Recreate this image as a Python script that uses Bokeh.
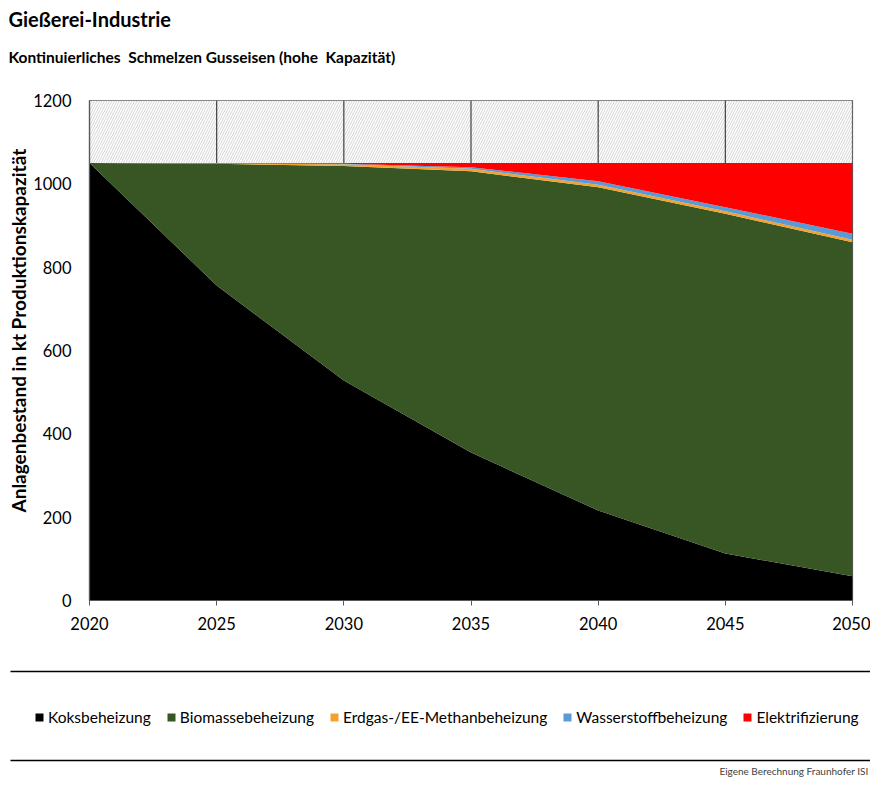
from bokeh.plotting import figure
from bokeh.models import Label, Legend, LegendItem, Range1d, FixedTicker, Title
from bokeh.layouts import column, row
from bokeh.embed import file_html
from bokeh.resources import INLINE

# ---- data ----
jahre = [2020, 2025, 2030, 2035, 2040, 2045, 2050]
koks = [1050, 756, 528, 355, 216, 113, 58]
biomasse = [0, 292, 515, 675, 776, 815, 802]
erdgas = [0, 1, 4, 6, 6, 6, 6]
wasserstoff = [0, 0, 1, 4, 8, 10, 14]
elektrifizierung = [0, 1, 2, 10, 44, 106, 170]
y_ticks = [0, 200, 400, 600, 800, 1000, 1200]
serien = ["Koksbeheizung", "Biomassebeheizung", "Erdgas-/EE-Methanbeheizung",
          "Wasserstoffbeheizung", "Elektrifizierung"]
farben = ["#000000", "#375623", "#f4a22c", "#5b9bd5", "#ff0000"]

FONT = "Lato"
W = 870
H_TOP, H_MAIN, H_BOT = 80, 570, 127

data = dict(jahr=jahre, s0=koks, s1=biomasse, s2=erdgas, s3=wasserstoff, s4=elektrifizierung)
stackers = ["s0", "s1", "s2", "s3", "s4"]
gesamt = [sum(v) for v in zip(koks, biomasse, erdgas, wasserstoff, elektrifizierung)]
y_max = y_ticks[-1]


def plain(h):
    f = figure(width=W, height=h, x_range=Range1d(0, W), y_range=Range1d(0, h),
               output_backend="svg", toolbar_location=None, min_border=0,
               x_axis_location=None, y_axis_location=None)
    f.min_border_left = f.min_border_right = f.min_border_top = f.min_border_bottom = 0
    f.outline_line_color = None
    f.grid.visible = False
    return f


# ---- title panel ----
pt = plain(H_TOP)
pt.add_layout(Label(x=8, y=H_TOP - 18, text="Gießerei-Industrie", text_font=FONT,
                    text_font_style="bold", text_font_size="20px", text_baseline="middle",
                    text_color="#000000"))
pt.add_layout(Label(x=8, y=H_TOP - 56,
                    text="Kontinuierliches\u00a0 Schmelzen Gusseisen (hohe\u00a0 Kapazität)",
                    text_font=FONT, text_font_style="bold", text_font_size="15.5px",
                    text_baseline="middle", text_color="#000000"))

# ---- main chart ----
p = figure(width=W, height=H_MAIN, x_range=Range1d(jahre[0], jahre[-1]), y_range=Range1d(0, y_max),
           output_backend="svg", toolbar_location=None,
           min_border_left=89, min_border_right=18, min_border_top=20, min_border_bottom=50)

p.quad(left=jahre[:-1], right=jahre[1:], bottom=gesamt[:-1], top=[y_max] * (len(jahre) - 1),
       fill_color="white", line_color=None, hatch_pattern="/", hatch_color="#d4d4d4",
       hatch_scale=5, hatch_weight=1)
p.segment(x0=jahre, y0=gesamt, x1=jahre, y1=[y_max] * len(jahre), line_color="#404040", line_width=1.2)

p.varea_stack(stackers=stackers, x="jahr", color=farben, source=data)

p.xgrid.visible = False
p.ygrid.visible = False
p.outline_line_color = "#595959"
p.outline_line_width = 1.2

p.xaxis.ticker = FixedTicker(ticks=jahre)
p.yaxis.ticker = FixedTicker(ticks=y_ticks)
for ax in (p.xaxis[0], p.yaxis[0]):
    ax.axis_line_color = "#595959"
    ax.axis_line_width = 1.2
    ax.major_tick_line_color = "#595959"
    ax.major_tick_in = 0
    ax.minor_tick_in = 0
    ax.minor_tick_out = 0
    ax.major_label_text_font = FONT
    ax.major_label_text_font_size = "16.5px"
    ax.major_label_text_color = "#000000"
p.xaxis.major_tick_out = 5
p.xaxis.major_label_standoff = 11
p.yaxis.major_tick_out = 0
p.yaxis.major_label_standoff = 18

p.add_layout(Title(text="Anlagenbestand in kt Produktionskapazität", align="left", offset=88,
                   text_font=FONT, text_font_style="bold", text_font_size="19px",
                   text_color="#000000", standoff=2), "left")

# ---- legend / footer panel ----
pb = plain(H_BOT)
pb.segment(x0=[10, 10], y0=[H_BOT - 21, 17], x1=[870, 870], y1=[H_BOT - 21, 17],
           line_color="#000000", line_width=1.3)
leg_rs = pb.varea_stack(stackers=stackers, x="jahr", color=farben, source=data, visible=False)
items = [LegendItem(label=n, renderers=[r]) for n, r in zip(serien, leg_rs)]
legend = Legend(items=items, orientation="horizontal", location=(34, H_BOT - 68 - 8),
                glyph_width=10, glyph_height=10, label_standoff=4, spacing=15,
                padding=0, margin=0, border_line_color=None, background_fill_alpha=0,
                label_text_font=FONT, label_text_font_size="15.5px", label_text_color="#000000")
pb.add_layout(legend, "center")
pb.add_layout(Label(x=868, y=7, text="Eigene Berechnung Fraunhofer ISI", text_align="right",
                    text_baseline="middle", text_font=FONT, text_font_size="10px",
                    text_color="#404040"))

layout = column(row(pt), p, row(pb))
open("out.html", "w").write(file_html(layout, INLINE))
